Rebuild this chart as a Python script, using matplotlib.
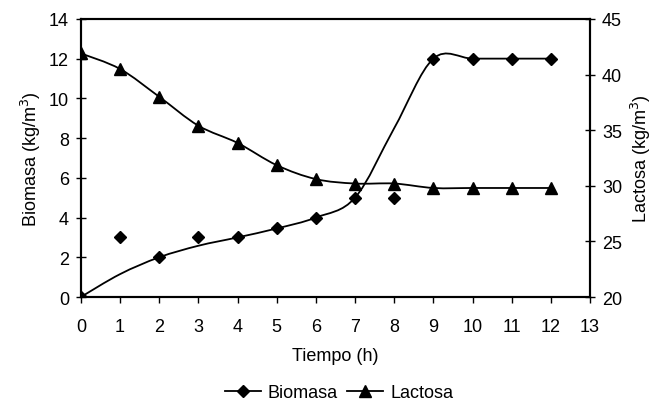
import matplotlib
matplotlib.use("Agg")
import matplotlib.pyplot as plt
import numpy as np
from matplotlib.path import Path
from matplotlib.patches import PathPatch
from matplotlib.lines import Line2D

plt.rcParams['font.family'] = ['Liberation Sans', 'DejaVu Sans']

# data
tiempo = [0, 1, 2, 3, 4, 5, 6, 7, 8, 9, 10, 11, 12]
biomasa_exp = [0, 3.0, 2.0, 3.0, 3.0, 3.45, 4.0, 5.0, 5.0, 12.0, 12.0, 12.0, 12.0]
biomasa_modelo = [0, 1.15, 2.0, 2.58, 3.0, 3.45, 4.0, 5.0, 8.5, 12.0, 12.0, 12.0, 12.0]
lactosa = [41.9, 40.5, 38.0, 35.4, 33.85, 31.85, 30.6, 30.2, 30.2, 29.8, 29.8, 29.8, 29.8]


def smooth_path(x, y):
    """Excel-style smoothed line as cubic Bezier segments."""
    x = np.asarray(x, float)
    y = np.asarray(y, float)
    n = len(x)
    verts = [(x[0], y[0])]
    codes = [Path.MOVETO]
    for i in range(n - 1):
        xp, yp = (x[i - 1], y[i - 1]) if i > 0 else (x[i], y[i])
        xn, yn = (x[i + 2], y[i + 2]) if i + 2 < n else (x[i + 1], y[i + 1])
        c1 = (x[i] + (x[i + 1] - xp) / 6, y[i] + (y[i + 1] - yp) / 6)
        c2 = (x[i + 1] - (xn - x[i]) / 6, y[i + 1] - (yn - y[i]) / 6)
        verts += [c1, c2, (x[i + 1], y[i + 1])]
        codes += [Path.CURVE4] * 3
    return Path(verts, codes)


fig = plt.figure(figsize=(6.52, 4.06), dpi=100)
ax = fig.add_axes([0.124, 0.266, 0.781, 0.685])
ax2 = ax.twinx()

ax.add_patch(PathPatch(smooth_path(tiempo, biomasa_modelo), fill=False,
                       color="black", lw=1.3))
ax.plot(tiempo, biomasa_exp, linestyle="none", marker="D", ms=6,
        color="black")

ax2.add_patch(PathPatch(smooth_path(tiempo, lactosa), fill=False,
                        color="black", lw=1.3))
ax2.plot(tiempo, lactosa, linestyle="none", marker="^", ms=8,
         color="black")

ax.set_xlim(0, 13)
ax.set_ylim(0, 14)
ax2.set_ylim(20, 45)
ax.set_xticks(range(0, 14))
ax.set_yticks(range(0, 15, 2))
ax2.set_yticks(range(20, 46, 5))

fs = 13
ax.tick_params(axis="x", labelsize=fs, direction="out", length=4, width=1, pad=11)
ax.tick_params(axis="y", labelsize=fs, direction="inout", length=7, width=1, pad=5)
ax2.tick_params(axis="y", labelsize=fs, direction="inout", length=7, width=1, pad=5)
for a in (ax, ax2):
    for s in a.spines.values():
        s.set_linewidth(1.5)

ax.set_xlabel("Tiempo (h)", fontsize=fs, labelpad=9)
ax.set_ylabel("Biomasa (kg/m$^3$)", fontsize=fs, labelpad=4)
ax2.set_ylabel("Lactosa (kg/m$^3$)", fontsize=fs, labelpad=5)

handles = [Line2D([], [], color="black", lw=1.3, marker="D", ms=6),
           Line2D([], [], color="black", lw=1.3, marker="^", ms=8)]
fig.legend(handles, ["Biomasa", "Lactosa"], loc="center",
           bbox_to_anchor=(0.52, 0.03), ncol=2, frameon=False,
           fontsize=fs, handlelength=2.0, handletextpad=0.4,
           columnspacing=0.5)

fig.savefig("out.png", dpi=100)
